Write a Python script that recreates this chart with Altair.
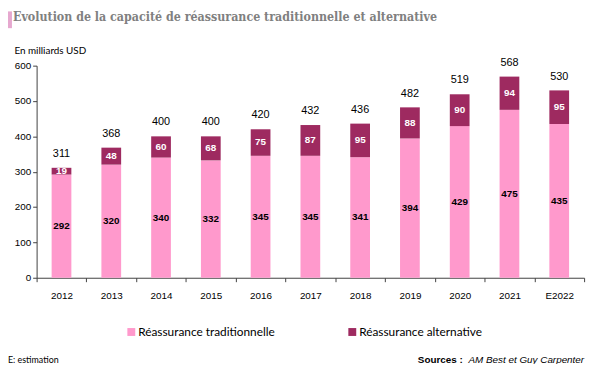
import altair as alt
import pandas as pd

years = ["2012", "2013", "2014", "2015", "2016", "2017", "2018", "2019", "2020", "2021", "E2022"]
traditionnelle = [292, 320, 340, 332, 345, 345, 341, 394, 429, 475, 435]
alternative = [19, 48, 60, 68, 75, 87, 95, 88, 90, 94, 95]
totals = [311, 368, 400, 400, 420, 432, 436, 482, 519, 568, 530]

S_TRAD = "Réassurance traditionnelle"
S_ALT = "Réassurance alternative"

rows = []
for y, t, a in zip(years, traditionnelle, alternative):
    rows.append({"year": y, "series": S_TRAD, "order": 0, "start": 0, "end": t, "value": t, "mid": t / 2})
    rows.append({"year": y, "series": S_ALT, "order": 1, "start": t, "end": t + a, "value": a, "mid": t + a / 2})
df = pd.DataFrame(rows)
df_tot = pd.DataFrame({"year": years, "total": totals,
                       "top": [t + a for t, a in zip(traditionnelle, alternative)]})

W, H = 555, 215
xaxis = alt.Axis(labelAngle=0, tickBand="extent", domainColor="#404040",
                 tickColor="#404040", tickSize=4, labelPadding=9,
                 labelFont="Liberation Sans", labelFontSize=10, labelColor="#000000")
xscale = alt.Scale(paddingInner=0, paddingOuter=0)
yscale = alt.Scale(domain=[0, 600], nice=False)
yaxis = alt.Axis(values=[0, 100, 200, 300, 400, 500, 600], grid=False, labelOverlap=False,
                 domainColor="#404040", tickColor="#404040", tickSize=4,
                 labelFont="Liberation Sans", labelFontSize=10, labelColor="#000000",
                 titleAngle=0, titleAlign="left", titleBaseline="bottom",
                 titleX=-23, titleY=-10, titleFont="Lato", titleFontSize=10,
                 titleFontWeight="normal", titleColor="#000000")


def X():
    return alt.X("year:N", sort=years, title=None, scale=xscale, axis=xaxis)


def Y(field):
    return alt.Y(field, scale=yscale, title="En milliards USD", axis=yaxis)


bars = alt.Chart(df).mark_bar(size=20).encode(
    x=X(),
    y=Y("start:Q"),
    y2="end:Q",
    color=alt.Color("series:N", sort=[S_TRAD, S_ALT],
                    scale=alt.Scale(domain=[S_TRAD, S_ALT], range=["#FF99CC", "#9E2A60"]),
                    legend=alt.Legend(title=None, orient="none", direction="horizontal",
                                      legendX=90, legendY=264, symbolType="square",
                                      symbolSize=64, symbolStrokeWidth=0, labelFont="Lato",
                                      labelFontSize=12, labelColor="#000000", columnPadding=72,
                                      labelOffset=1, symbolOpacity=1)),
)

lab_trad = alt.Chart(df[df.series == S_TRAD]).mark_text(
    font="Liberation Sans", fontSize=10, fontWeight="bold", color="#000000").encode(
    x=X(), y=Y("mid:Q"), text="value:Q")

lab_alt = alt.Chart(df[df.series == S_ALT]).mark_text(
    font="Liberation Sans", fontSize=10, fontWeight="bold", color="#FFFFFF").encode(
    x=X(), y=Y("mid:Q"), text="value:Q")

lab_tot = alt.Chart(df_tot).mark_text(
    font="Liberation Sans", fontSize=11, color="#000000", dy=-14).encode(
    x=X(), y=Y("top:Q"), text="total:Q")

title = alt.Chart(pd.DataFrame({"t": ["Evolution de la capacité de réassurance traditionnelle et alternative"]})).mark_text(
    font="'DejaVu Serif Condensed', 'DejaVu Serif'", fontSize=12.5, fontWeight="bold", color="#808080",
    align="left", baseline="middle").encode(
    x=alt.value(-24), y=alt.value(-49), text="t:N")

note = alt.Chart(pd.DataFrame({"t": ["E: estimation"]})).mark_text(
    font="Lato", fontSize=9, color="#000000", align="left", baseline="middle").encode(
    x=alt.value(-29), y=alt.value(298), text="t:N")

src1 = alt.Chart(pd.DataFrame({"t": ["AM Best et Guy Carpenter"]})).mark_text(
    font="Liberation Sans", fontSize=10, fontStyle="italic", color="#000000",
    align="right", baseline="middle").encode(
    x=alt.value(555), y=alt.value(298), text="t:N")

src2 = alt.Chart(pd.DataFrame({"t": ["Sources :"]})).mark_text(
    font="Liberation Sans", fontSize=10, fontWeight="bold", color="#000000",
    align="right", baseline="middle").encode(
    x=alt.value(432), y=alt.value(298), text="t:N")

deco = alt.Chart(pd.DataFrame({"a": [1]})).mark_rect(color="#E6A8CF").encode(
    x=alt.value(-29), x2=alt.value(-25), y=alt.value(-55), y2=alt.value(-38))

chart = alt.layer(bars, lab_trad, lab_alt, lab_tot, deco, title, note, src1, src2).properties(
    width=W, height=H,
    autosize=alt.AutoSizeParams(type="none"),
    padding={"left": 29, "top": 56, "right": 8, "bottom": 85},
).configure_view(stroke=None)

chart.save("out.html", embed_options={"renderer": "svg", "actions": False})
